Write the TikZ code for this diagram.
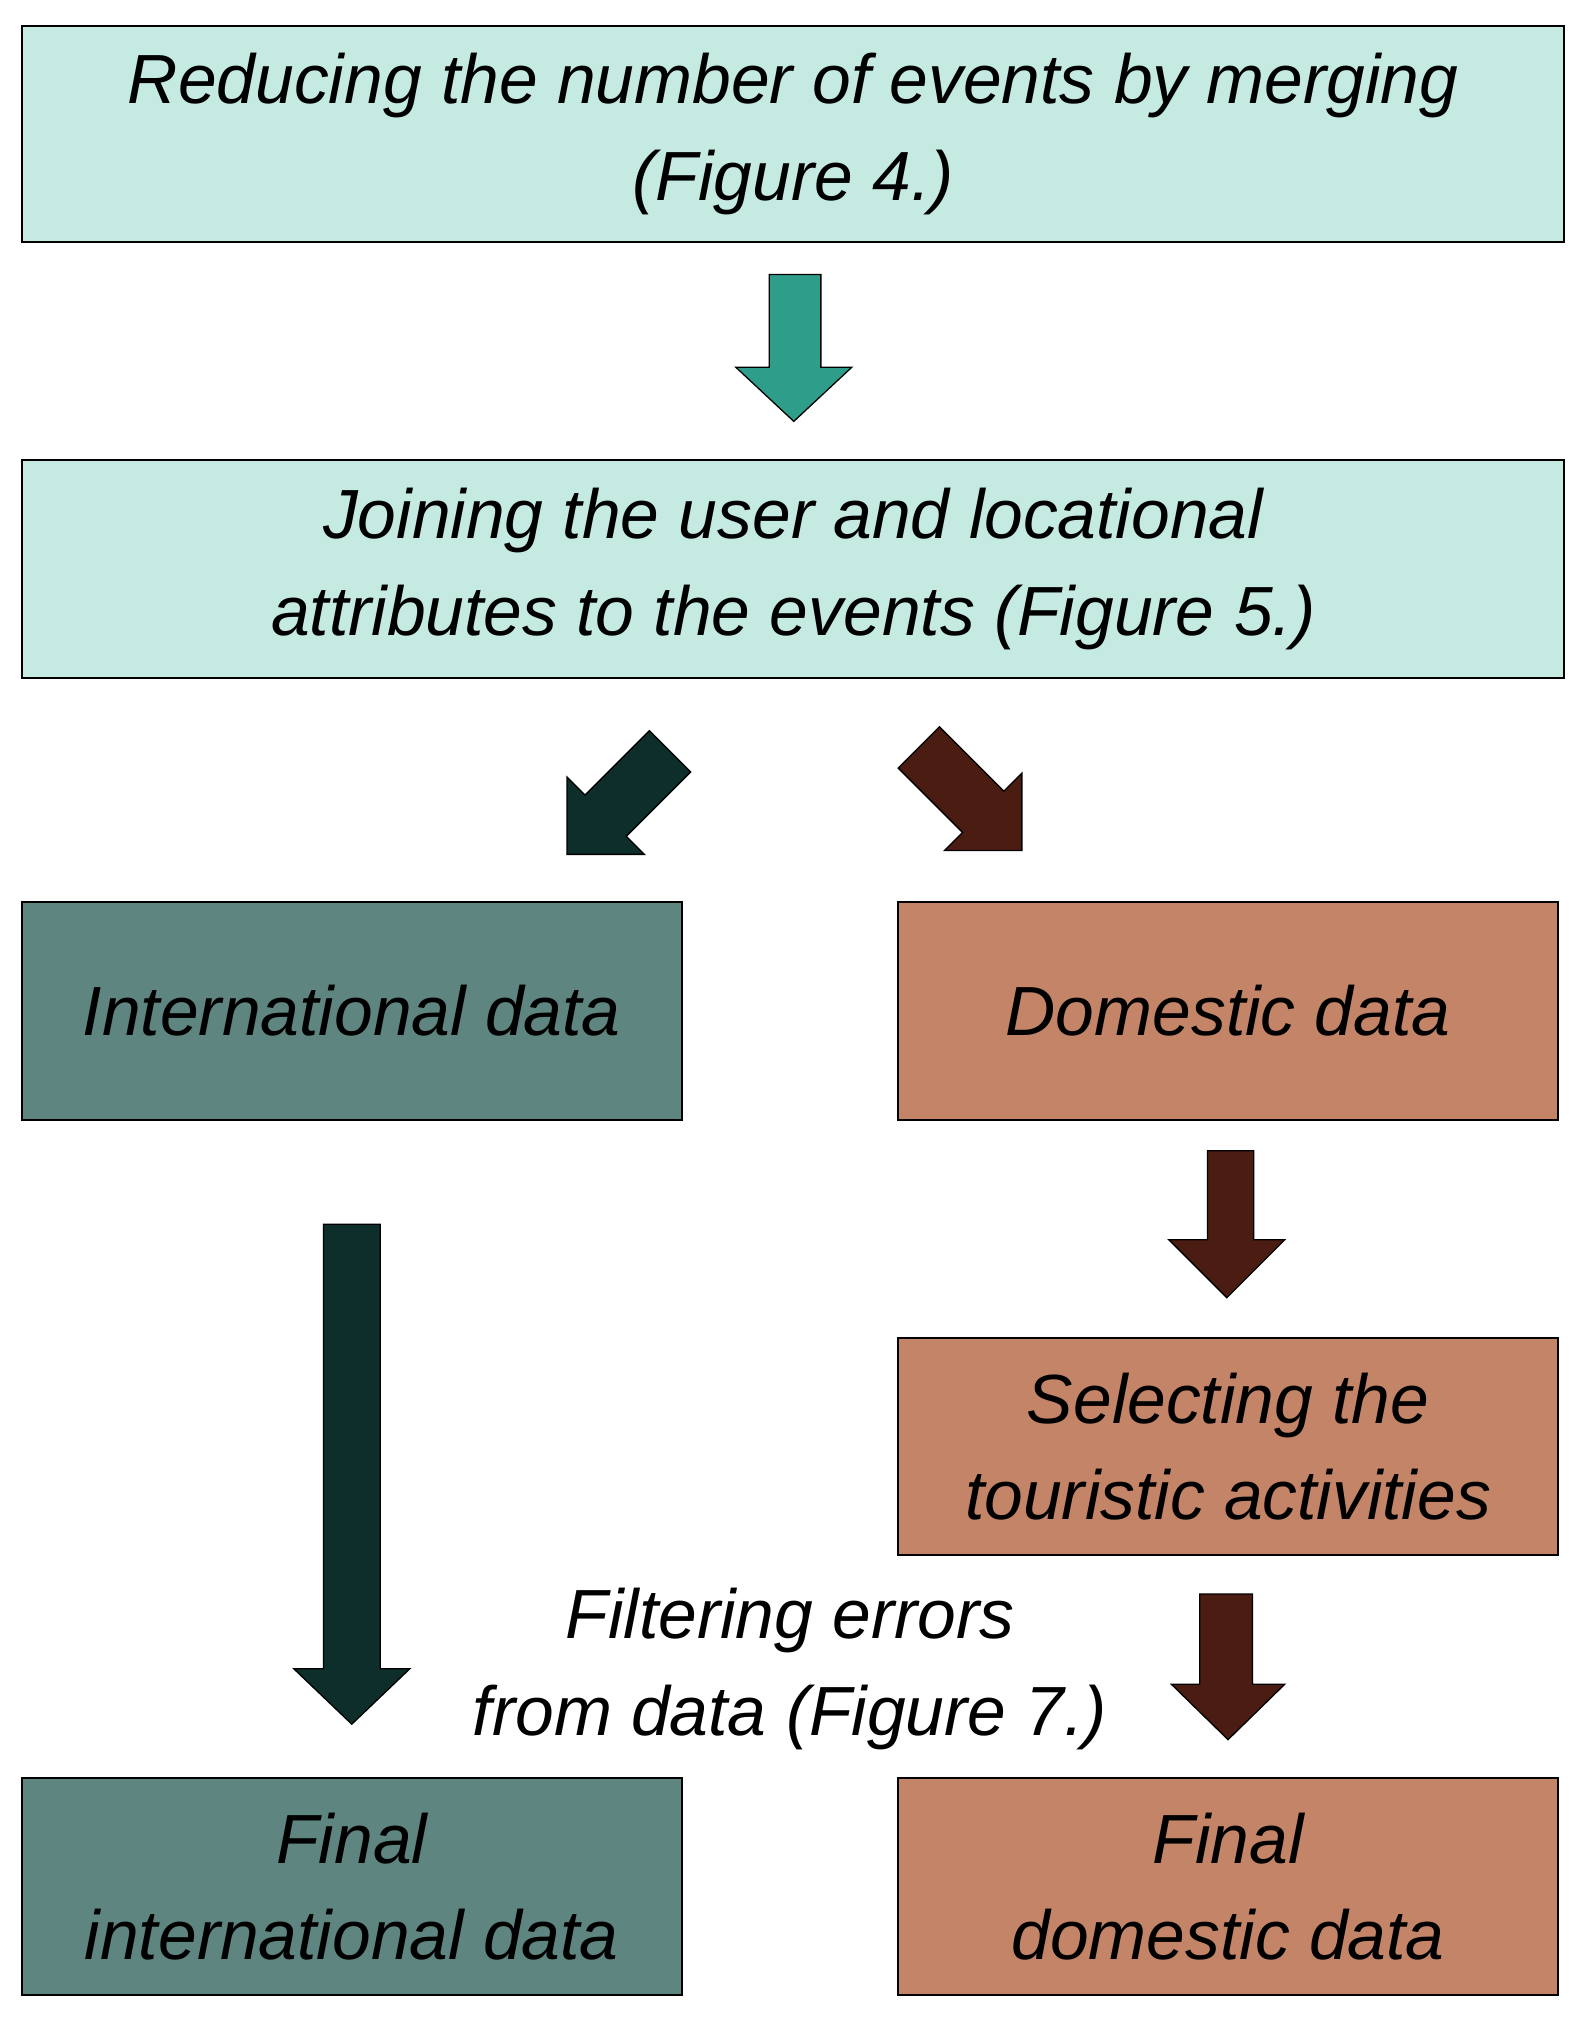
\documentclass[tikz,border=0pt]{standalone}
\usepackage{fontspec}
\setmainfont{Liberation Sans}
\begin{document}
\begin{tikzpicture}[x=1pt,y=-1pt,
 box/.style={draw=black,line width=1.5pt,align=center,font=\fontsize{54}{75}\selectfont\itshape},
 ar/.style={draw=black,line width=1pt}]
\definecolor{lt}{HTML}{C4EAE2}
\definecolor{tg}{HTML}{5E8580}
\definecolor{br}{HTML}{C38468}
\definecolor{tl}{HTML}{2E9E8A}
\definecolor{dt}{HTML}{0D2E2B}
\definecolor{db}{HTML}{4A1C12}
\useasboundingbox (0,0) rectangle (1230,1573);
\fill[white] (0,0) rectangle (1230,1573);
\node[box,fill=lt,minimum width=1197pt,minimum height=168pt] (a) at (615.5,104) {Reducing the number of events by merging\\(Figure 4.)};
\node[box,fill=lt,minimum width=1197pt,minimum height=169pt] (b) at (615.5,441.5) {Joining the user and locational\\attributes to the events (Figure 5.)};
\node[box,fill=tg,minimum width=512pt,minimum height=169pt] (i) at (273,784.5) {International data};
\node[box,fill=br,minimum width=512pt,minimum height=169pt] (d) at (953,784.5) {Domestic data};
\node[box,fill=br,minimum width=512pt,minimum height=169pt] (s) at (953,1122.5) {Selecting the\\touristic activities};
\node[box,fill=tg,minimum width=512pt,minimum height=168pt] (fi) at (273,1464) {Final\\international data};
\node[box,fill=br,minimum width=512pt,minimum height=168pt] (fd) at (953,1464) {Final\\domestic data};
\node[align=center,font=\fontsize{54}{75}\selectfont\itshape] (t) at (613,1295) {Filtering errors\\from data (Figure 7.)};
% arrows
\draw[ar,fill=tl] (597,213)--(637,213)--(637,285)--(661,285)--(616,327)--(571,285)--(597,285)--cycle;
\draw[ar,fill=dt] (440,663)--(440,603)--(454,617)--(504,567)--(536,599)--(486,649)--(500,663)--cycle;
\draw[ar,fill=db] (793,660)--(793,600)--(779,614)--(729,564)--(697,596)--(747,646)--(733,660)--cycle;
\draw[ar,fill=dt] (251,950)--(295,950)--(295,1295)--(318,1295)--(273,1338)--(228,1295)--(251,1295)--cycle;
\draw[ar,fill=db] (937,893)--(973,893)--(973,962)--(997,962)--(952,1007)--(907,962)--(937,962)--cycle;
\draw[ar,fill=db] (931,1237)--(972,1237)--(972,1307)--(997,1307)--(953,1350)--(909,1307)--(931,1307)--cycle;
\end{tikzpicture}
\end{document}
